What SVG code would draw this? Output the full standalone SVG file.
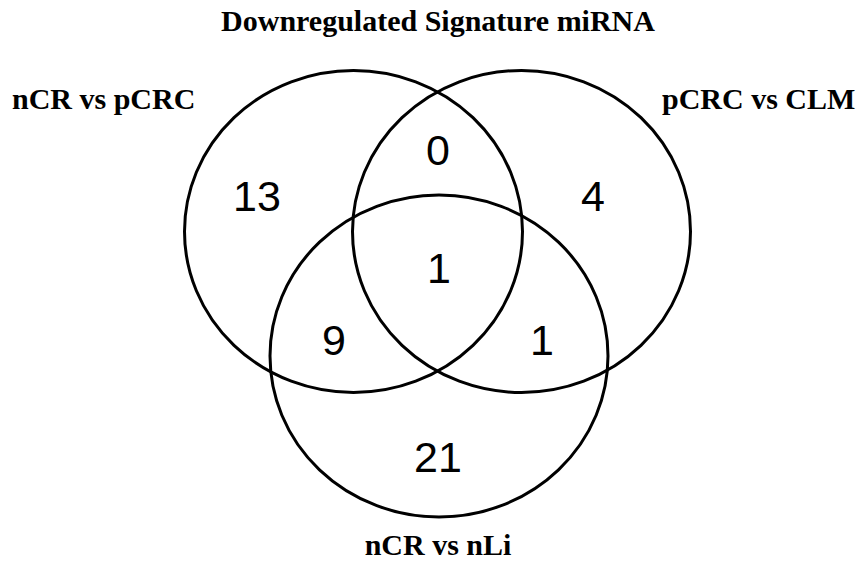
<svg xmlns="http://www.w3.org/2000/svg" width="863" height="571" viewBox="0 0 863 571">
<style>
.set{fill:none;stroke:#000;stroke-width:3}
.lbl{font-family:"Liberation Serif","Times New Roman",serif;font-weight:bold;font-size:30px;fill:#000}
.num{font-family:"Liberation Sans",Arial,sans-serif;font-size:43px;fill:#000;text-anchor:middle}
</style>
<rect width="863" height="571" fill="#fff"/>
<text class="lbl" x="438" y="31" text-anchor="middle">Downregulated Signature miRNA</text>
<g id="set-nCR-pCRC">
<ellipse class="set" cx="353.5" cy="231.5" rx="169" ry="161"/>
<text class="lbl" x="12" y="109">nCR vs pCRC</text>
</g>
<g id="set-pCRC-CLM">
<ellipse class="set" cx="521.5" cy="231.5" rx="169" ry="161"/>
<text class="lbl" x="662" y="109">pCRC vs CLM</text>
</g>
<g id="set-nCR-nLi">
<ellipse class="set" cx="439" cy="356" rx="169" ry="161"/>
<text class="lbl" x="438" y="555" text-anchor="middle">nCR vs nLi</text>
</g>
<g id="counts">
<text class="num" x="257" y="211">13</text>
<text class="num" x="438" y="165">0</text>
<text class="num" x="593" y="211">4</text>
<text class="num" x="439" y="283">1</text>
<text class="num" x="334" y="355">9</text>
<text class="num" x="542" y="355">1</text>
<text class="num" x="438" y="472">21</text>
</g>
<g id="connectors"></g>
</svg>
